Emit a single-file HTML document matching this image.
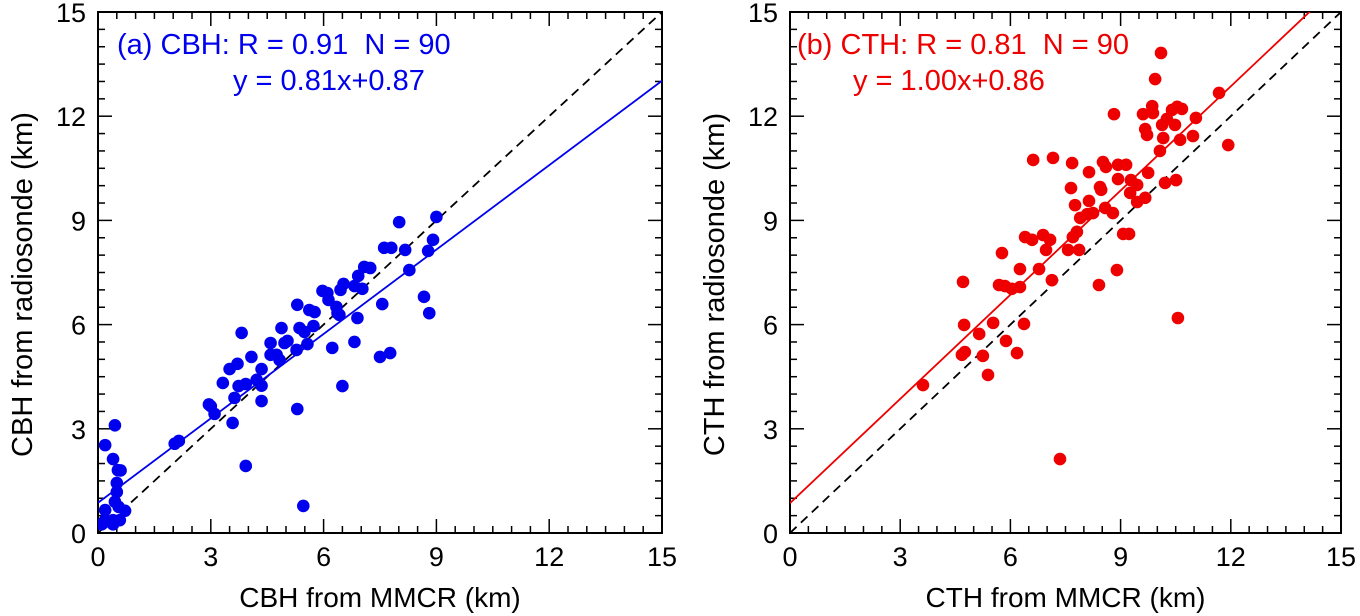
<!DOCTYPE html>
<html><head><meta charset="utf-8"><style>
html,body{margin:0;padding:0;background:#fff;}
svg{display:block;font-family:"Liberation Sans",sans-serif;}
text{white-space:pre;}
</style></head><body>
<svg id="chart" width="1360" height="616" viewBox="0 0 1360 616" xmlns="http://www.w3.org/2000/svg">
<defs>
<clipPath id="clipA"><rect x="98" y="12" width="564" height="521"/></clipPath>
<clipPath id="clipB"><rect x="790" y="12" width="551" height="521"/></clipPath>
</defs>
<g id="panelA"></g>
<g id="panelB"></g>
</svg>
<script>
const tickValues = [0, 3, 6, 9, 12, 15];
const tickLabels = ["0", "3", "6", "9", "12", "15"];
const cbhX = [0.19,0.45,0.4,0.53,0.6,0.5,0.5,0.45,0.55,0.19,0.72,0.19,0.4,0.58,0.1,0.15,0.4,
2.04,2.15,2.95,3.0,3.1,3.58,3.93,3.32,3.5,3.71,3.82,3.63,3.74,3.93,4.08,4.22,4.35,4.35,4.35,4.59,4.59,4.75,4.83,4.88,4.96,5.04,5.28,5.3,5.3,5.36,5.49,5.57,5.73,5.62,5.76,5.46,5.97,6.1,6.13,6.23,6.34,6.42,6.37,6.5,6.45,6.53,6.82,6.9,6.82,7.03,6.92,7.08,7.24,7.5,7.77,7.56,7.61,7.8,8.17,8.28,8.67,8.81,8.78,8.91,8.01,9.0];
const cbhY = [2.53,3.1,2.13,1.81,1.8,1.44,1.18,0.9,0.75,0.66,0.64,0.37,0.37,0.37,0.25,0.3,0.25,
2.57,2.65,3.7,3.65,3.43,3.17,1.93,4.32,4.72,4.87,5.76,3.89,4.23,4.29,5.07,4.41,4.72,4.24,3.8,5.47,5.13,5.13,4.98,5.9,5.47,5.53,5.27,6.57,3.57,5.9,5.79,5.44,5.96,6.42,6.36,0.78,6.97,6.91,6.71,5.33,6.51,6.28,6.33,4.23,7.0,7.17,5.5,6.19,7.11,7.03,7.4,7.66,7.63,5.07,5.18,6.59,8.21,8.21,8.15,7.57,6.8,6.33,8.12,8.44,8.95,9.1];
const cthX = [3.62,4.71,4.74,4.68,4.76,5.15,5.25,5.39,5.53,5.88,6.18,6.37,5.77,5.69,5.85,6.04,6.26,6.26,6.78,7.13,6.4,6.59,6.89,7.08,6.97,6.62,7.16,7.35,7.57,7.87,7.7,7.81,7.68,7.65,7.76,7.9,8.09,8.25,8.14,8.14,8.41,8.44,8.47,8.52,8.6,8.58,8.79,8.82,8.9,8.93,8.93,9.15,9.07,9.23,9.28,9.45,9.26,9.45,9.67,9.75,10.07,10.21,10.51,10.56,9.94,9.61,9.86,9.88,9.67,9.72,10.13,10.16,10.26,10.4,10.54,10.67,10.48,10.62,11.05,10.97,11.68,11.93,10.1];
const cthY = [4.26,7.23,5.99,5.13,5.21,5.73,5.1,4.55,6.05,5.53,5.18,6.02,8.06,7.14,7.11,7.03,7.08,7.6,7.6,7.28,8.52,8.44,8.58,8.44,8.15,10.74,10.8,2.13,8.15,8.15,8.52,8.67,10.65,9.93,9.44,9.07,9.18,9.21,9.56,10.39,7.14,9.96,9.88,10.68,10.54,9.36,9.21,12.06,7.57,10.19,10.6,10.6,8.61,8.61,10.16,10.02,9.79,9.53,9.65,10.37,11.0,10.08,10.16,6.19,13.07,12.06,12.29,12.09,11.63,11.46,11.75,11.37,11.92,12.18,12.27,12.21,11.75,11.32,11.95,11.43,12.67,11.17,13.82];
const fitA = [0.81, 0.87];
const fitB = [1.00, 0.86];

const NS = "http://www.w3.org/2000/svg";
function mk(parent, tag, attrs, text){
  const e = document.createElementNS(NS, tag);
  for (const k in attrs) e.setAttribute(k, attrs[k]);
  if (text !== undefined) e.textContent = text;
  parent.appendChild(e);
  return e;
}
function panel(g, x0, x1, clipId, xs, ys, fit, color, xTitle, yTitle, ann1, ann2, a1x, a2x, key){
  const y0 = 533, y1 = 12;
  const sx = v => x0 + (x1 - x0) * v / 15;
  const sy = v => y0 - (y0 - y1) * v / 15;
  const box = mk(g, "rect", {x:x0, y:y1, width:x1-x0, height:y0-y1, fill:"none", stroke:"#000", "stroke-width":2});
  
  
  for (let i = 0; i <= 30; i++) {
    const v = i * 0.5; const major = (i % 6 === 0); const L = major ? 14 : 7;
    const X = sx(v), Y = sy(v);
    mk(g, "line", {x1:X, y1:y0, x2:X, y2:y0-L, stroke:"#000", "stroke-width":1.5});
    mk(g, "line", {x1:X, y1:y1, x2:X, y2:y1+L, stroke:"#000", "stroke-width":1.5});
    mk(g, "line", {x1:x0, y1:Y, x2:x0+L, y2:Y, stroke:"#000", "stroke-width":1.5});
    mk(g, "line", {x1:x1, y1:Y, x2:x1-L, y2:Y, stroke:"#000", "stroke-width":1.5});
  }
  tickValues.forEach((v, i) => {
    const tx = mk(g, "text", {x:sx(v), y:y0+33, "font-size":27, "text-anchor":"middle"}, tickLabels[i]);
    
    
    const ty = mk(g, "text", {x:x0-12, y:sy(v)+10, "font-size":27, "text-anchor":"end"}, tickLabels[i]);
    
    
  });
  const xt = mk(g, "text", {x:(x0+x1)/2, y:607, "font-size":28, "text-anchor":"middle"}, xTitle);
  
  
  const yt = mk(g, "text", {x:0, y:0, "font-size":29, "text-anchor":"middle", transform:`translate(${x0-66},${(y0+y1)/2 + 12}) rotate(-90)`}, yTitle);
  
  
  const cg = mk(g, "g", {"clip-path":`url(#${clipId})`});
  const one = mk(cg, "line", {x1:sx(0), y1:sy(0), x2:sx(15), y2:sy(15), stroke:"#000", "stroke-width":1.8, "stroke-dasharray":"9,6"});
  
  
  xs.forEach((v, i) => {
    const c = mk(cg, "circle", {cx:sx(v), cy:sy(ys[i]), r:6.3, fill:color});
    
    
  });
  const fl = mk(cg, "line", {x1:sx(0), y1:sy(fit[1]), x2:sx(15), y2:sy(fit[0]*15+fit[1]), stroke:color, "stroke-width":1.8});
  
  
  const t1 = mk(g, "text", {x:a1x, y:54, "font-size":29, fill:color}, ann1);
  
  
  const t2 = mk(g, "text", {x:a2x, y:90, "font-size":29, fill:color}, ann2);
  
  
}
panel(document.getElementById("panelA"), 98, 662, "clipA", cbhX, cbhY, fitA, "#0000ee",
  "CBH from MMCR (km)", "CBH from radiosonde (km)", "(a) CBH: R = 0.91  N = 90", "y = 0.81x+0.87", 117, 233, "cbh");
panel(document.getElementById("panelB"), 790, 1341, "clipB", cthX, cthY, fitB, "#ee0000",
  "CTH from MMCR (km)", "CTH from radiosonde (km)", "(b) CTH: R = 0.81  N = 90", "y = 1.00x+0.86", 797, 853, "cth");
</script>
</body></html>
